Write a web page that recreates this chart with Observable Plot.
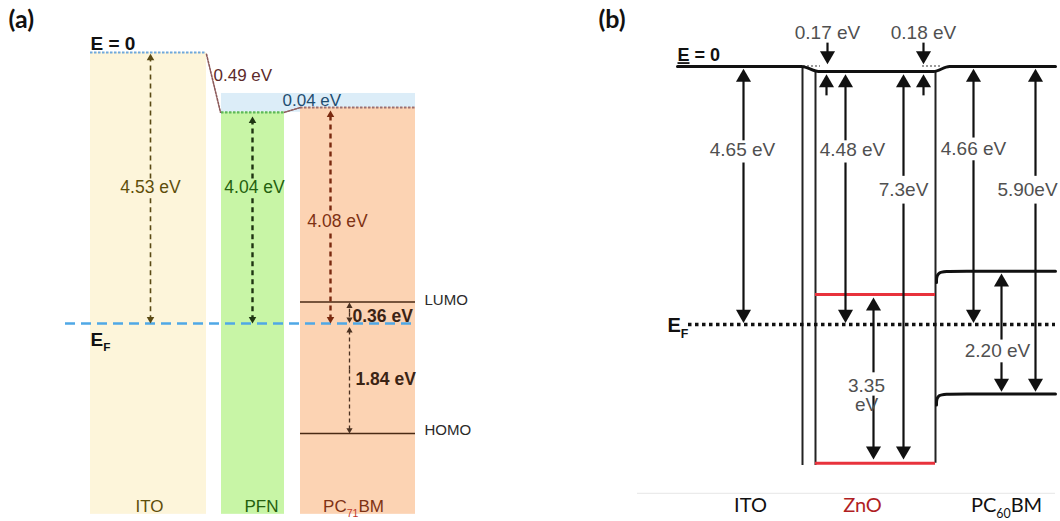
<!DOCTYPE html>
<html>
<head>
<meta charset="utf-8">
<script src="https://cdn.jsdelivr.net/npm/d3@7"></script>
<script src="https://cdn.jsdelivr.net/npm/@observablehq/plot@0.6"></script>
<style>
  html, body { margin: 0; padding: 0; background: #fff; }
  #chart { position: relative; width: 1060px; height: 521px; display: flex; }
  #chart svg { display: block; }
  text { white-space: pre; }
</style>
</head>
<body>
<div id="chart"></div>
<script>
const ARIAL = "'Liberation Sans', Arial, Helvetica, sans-serif";
const CALIBRI = "Lato, 'Open Sans', sans-serif";

// ================= DATA — panel (a): ITO / PFN / PC71BM =================
const layersA     = ["ITO", "PFN", "PC71BM"];
const workFnA     = [4.53, 4.04, 4.08];    // eV, vacuum level → E_F
const vacShiftA   = [0.49, 0.04];          // eV, ITO→PFN, PFN→PC71BM
const orbitalsA   = ["LUMO", "HOMO"];
const orbitalGapA = [0.36, 1.84];          // eV, LUMO above E_F, HOMO below E_F
const vacDrawnA   = [0, 1.0, 0.92];        // schematic (not to scale) drawn vacuum-level depth, eV

// ================= DATA — panel (b): ITO / ZnO / PC60BM =================
const layersB   = ["ITO", "ZnO", "PC60BM"];
const workFnB   = [4.65, 4.48, 4.66];      // eV
const vacShiftB = [0.17, 0.18];            // eV
const znoGapB   = 3.35;                    // eV
const znoVbB    = 7.3;                     // eV
const pcbmGapB  = 2.20;                    // eV
const pcbmHomoB = 5.90;                    // eV
// schematic drawn depths (eV-like units)
const vacDrawnB = [0, 0.09, 0];
const znoCbDrawnB = 4.11, znoVbDrawnB = 7.15, pcbmLumoDrawnB = 3.69;

// ================= helpers =================
function arrowMarks(arrows, {stroke, strokeWidth, dash, r, pxPerUnit}) {
  const tipLen = 1.555 * r;
  const cut = (tipLen * 0.8) / pxPerUnit;
  const lines = arrows.map(a => ({x: a.x, y1: a.tail, y2: a.tip + (a.tip < a.tail ? cut : -cut)}));
  const up = arrows.filter(a => a.tip < a.tail);
  const down = arrows.filter(a => a.tip > a.tail);
  return [
    Plot.link(lines, {x1: "x", x2: "x", y1: "y1", y2: "y2", stroke, strokeWidth, strokeDasharray: dash}),
    Plot.dot(up, {x: "x", y: "tip", symbol: "triangle", r, fill: stroke, stroke: "none", dy: tipLen}),
    Plot.dot(down, {x: "x", y: "tip", symbol: "triangle", r, fill: stroke, stroke: "none", rotate: 180, dy: -tipLen})
  ];
}
function richText(svg, full, parts, basePx) {
  d3.select(svg).selectAll("text").filter(function () { return this.textContent === full; })
    .each(function () {
      const t = d3.select(this);
      t.text(null);
      let shift = 0;
      for (const p of parts) {
        const ts = t.append("tspan").text(p.t);
        if (p.sub) {
          const d = basePx * 0.3;
          ts.attr("font-size", basePx * 0.62).attr("dy", d);
          shift = d;
        } else if (shift) {
          ts.attr("dy", -shift);
          shift = 0;
        }
        if (p.fill) ts.attr("fill", p.fill);
        if (p.underline) ts.attr("text-decoration", "underline");
      }
    });
}
const eV = v => `${v.toFixed(2)} eV`;

// ================= panel (a) =================
const LA = {
  span: [[9.0, 20.6], [22.1, 28.4], [30.0, 41.5]],
  bottom: 7.72,
  fill: ["#FDF5DA", "#C8F5A6", "#FCD3B3"],
  ink: ["#5E4E0A", "#24600E", "#7E3214"],
  topDot: ["#6FA8DC", "#5DB85A", "#9C7070"],
  arrowInk: ["#5A4A14", "#1E3412", "#7A2A10"],
  arrowX: [15.0, 25.2, 33.0],
  labelX: [15.0, 25.4, 33.7],
  labelY: [2.257, 2.257, 2.825],
  gapUp: [0.15, 0.15, 0.185],
  gapDown: [0.18, 0.18, 0.2],
  tipPad: [0.02, 0.07, 0.05]
};
const pxA = 59.82;
const EFa = workFnA[0];
const lumoDepthA = EFa - orbitalGapA[0];
const homoDepthA = EFa + orbitalGapA[1];
const rectsA = layersA.map((name, i) => ({
  name, x1: LA.span[i][0], x2: LA.span[i][1], top: vacDrawnA[i], fill: LA.fill[i], dot: LA.topDot[i]
}));
const bandA = [{x1: LA.span[1][0], x2: LA.span[2][1], y1: 0.685, y2: vacDrawnA[1]}];
const connA = [
  {k: 0, x: LA.span[0][1], y: vacDrawnA[0] + 0.03}, {k: 0, x: LA.span[1][0] - 0.1, y: vacDrawnA[1]},
  {k: 1, x: LA.span[1][1], y: vacDrawnA[1]}, {k: 1, x: LA.span[2][0], y: vacDrawnA[2]}
];
const mainArrowsA = layersA.map((_, i) => [
  {x: LA.arrowX[i], tail: LA.labelY[i] - LA.gapUp[i], tip: vacDrawnA[i] + LA.tipPad[i], c: i},
  {x: LA.arrowX[i], tail: LA.labelY[i] + LA.gapDown[i], tip: EFa, c: i}
]);
const smallArrowsA = [
  {x: 34.9, tail: (lumoDepthA + EFa) / 2, tip: lumoDepthA + 0.01},
  {x: 34.9, tail: (lumoDepthA + EFa) / 2, tip: EFa - 0.01},
  {x: 34.9, tail: 5.3, tip: EFa + 0.06},
  {x: 34.9, tail: 5.3, tip: homoDepthA}
];
const wfLabelsA = layersA.map((_, i) => ({x: LA.labelX[i], y: LA.labelY[i], t: eV(workFnA[i]), c: LA.ink[i]}));
const shiftLabelsA = [
  {x: 21.3, y: 0.385, t: eV(vacShiftA[0]), c: "#5C2A2A"},
  {x: 28.2, y: 0.81, t: eV(vacShiftA[1]), c: "#1F4E70"}
];
const orbLabelsA = [
  {x: 42.4, y: lumoDepthA - 0.03, t: orbitalsA[0]},
  {x: 42.4, y: homoDepthA - 0.05, t: orbitalsA[1]}
];
const gapLabelsA = [
  {x: 35.2, y: 4.41, t: eV(orbitalGapA[0])},
  {x: 35.5, y: 5.47, t: eV(orbitalGapA[1])}
];
const nameLabelsA = layersA.map((name, i) => ({x: [14.9, 26.1, 35.3][i], y: 7.59, t: name, c: LA.ink[i]}));

const plotA = Plot.plot({
  width: 530, height: 521, margin: 0,
  x: {domain: [0, 53], range: [0, 530], axis: null},
  y: {domain: [-0.869, 7.84], range: [0, 521], axis: null},
  color: {type: "identity"},
  style: {fontFamily: ARIAL, background: "transparent", overflow: "visible"},
  marks: [
    Plot.rect(bandA, {x1: "x1", x2: "x2", y1: "y1", y2: "y2", fill: "#DCEDF8"}),
    Plot.rect(rectsA, {x1: "x1", x2: "x2", y1: "top", y2: LA.bottom, fill: "fill"}),
    Plot.ruleY(rectsA, {y: "top", x1: "x1", x2: "x2", stroke: "dot", strokeWidth: 2.2, strokeDasharray: "2.5,1.5"}),
    Plot.line(connA, {x: "x", y: "y", z: "k", stroke: "#8C5A5A", strokeWidth: 1.6, strokeDasharray: "2,1.5"}),
    Plot.ruleY([lumoDepthA, homoDepthA], {x1: LA.span[2][0], x2: LA.span[2][1], stroke: "#4A2A14", strokeWidth: 1.6}),
    Plot.ruleY([EFa], {x1: 6.5, x2: 41.5, stroke: "#4FA8E6", strokeWidth: 2.6, strokeDasharray: "10,6"}),
    ...mainArrowsA.flatMap((arr, i) => arrowMarks(arr, {stroke: LA.arrowInk[i], strokeWidth: i === 0 ? 1.6 : 2.4, dash: "5,4", r: 2.8, pxPerUnit: pxA})),
    ...arrowMarks(smallArrowsA, {stroke: "#4A3020", strokeWidth: 1.3, dash: "4,3", r: 2.3, pxPerUnit: pxA}),
    Plot.text(wfLabelsA, {x: "x", y: "y", text: "t", fill: "c", fontSize: 17.5}),
    Plot.text(shiftLabelsA, {x: "x", y: "y", text: "t", fill: "c", fontSize: 17, textAnchor: "start"}),
    Plot.text(orbLabelsA, {x: "x", y: "y", text: "t", fill: "#2A2A2A", fontSize: 15, textAnchor: "start"}),
    Plot.text(gapLabelsA, {x: "x", y: "y", text: "t", fill: "#3B2314", fontSize: 17.5, fontWeight: "bold", textAnchor: "start"}),
    Plot.text(nameLabelsA, {x: "x", y: "y", text: "t", fill: "c", fontSize: 17}),
    Plot.text(["E = 0"], {x: 9.0, y: -0.14, text: d => d, fill: "#111", fontSize: 19, fontWeight: "bold", textAnchor: "start"}),
    Plot.text(["EF"], {x: 9.0, y: 4.80, text: d => d, fill: "#111", fontSize: 19, fontWeight: "bold", textAnchor: "start"}),
    Plot.text(["(a)"], {x: 0.8, y: -0.535, text: d => d, fill: "#111", fontSize: 25, fontWeight: "bold", textAnchor: "start", fontFamily: CALIBRI})
  ]
});

// ================= panel (b) =================
const pxB = 55.5;
const EFb = workFnB[0];
const vacLineB = [
  {x: 14.7, y: vacDrawnB[0]}, {x: 27.1, y: vacDrawnB[0]},
  {x: 28.8, y: vacDrawnB[1]}, {x: 40.3, y: vacDrawnB[1]},
  {x: 41.9, y: vacDrawnB[2]}, {x: 52.5, y: vacDrawnB[2]}
];
const wallsB = [
  {x: 27.2, y1: vacDrawnB[0], y2: 7.19},
  {x: 28.5, y1: vacDrawnB[1], y2: 7.19},
  {x: 40.5, y1: vacDrawnB[1], y2: znoVbDrawnB}
];
const dotsB = [{x1: 27.3, x2: 29.0}, {x1: 39.2, x2: 41.0}];
const pcLevelsB = [
  {k: "LUMO", x: 40.6, y: pcbmLumoDrawnB + 0.2}, {k: "LUMO", x: 40.6, y: pcbmLumoDrawnB},
  {k: "LUMO", x: 42.2, y: pcbmLumoDrawnB}, {k: "LUMO", x: 52.5, y: pcbmLumoDrawnB},
  {k: "HOMO", x: 40.6, y: pcbmHomoB + 0.2}, {k: "HOMO", x: 40.6, y: pcbmHomoB},
  {k: "HOMO", x: 42.2, y: pcbmHomoB}, {k: "HOMO", x: 52.5, y: pcbmHomoB}
];
const arrowsB = [
  {x: 21.3, tail: 1.33, tip: 0.04}, {x: 21.3, tail: 1.73, tip: EFb - 0.03},
  {x: 29.7, tail: -0.43, tip: -0.04}, {x: 29.6, tail: 0.52, tip: vacDrawnB[1] + 0.05},
  {x: 31.5, tail: 1.33, tip: vacDrawnB[1] + 0.05}, {x: 31.5, tail: 1.73, tip: EFb - 0.03},
  {x: 34.3, tail: 5.51, tip: znoCbDrawnB + 0.05}, {x: 34.3, tail: 5.93, tip: znoVbDrawnB - 0.07},
  {x: 37.3, tail: 1.97, tip: vacDrawnB[1] + 0.05}, {x: 37.3, tail: 2.47, tip: znoVbDrawnB - 0.07},
  {x: 39.3, tail: -0.43, tip: -0.04}, {x: 39.3, tail: 0.52, tip: vacDrawnB[1] + 0.05},
  {x: 44.3, tail: 1.28, tip: 0.04}, {x: 44.3, tail: 1.69, tip: EFb - 0.03},
  {x: 50.5, tail: 1.97, tip: 0.04}, {x: 50.5, tail: 2.47, tip: pcbmHomoB - 0.04},
  {x: 47.1, tail: 4.92, tip: pcbmLumoDrawnB + 0.04}, {x: 47.1, tail: 5.33, tip: pcbmHomoB - 0.04}
];
const labelsB = [
  {x: 29.7, y: -0.6, t: eV(vacShiftB[0])},
  {x: 39.3, y: -0.6, t: eV(vacShiftB[1])},
  {x: 21.2, y: 1.51, t: eV(workFnB[0])},
  {x: 32.2, y: 1.51, t: eV(workFnB[1])},
  {x: 44.3, y: 1.48, t: eV(workFnB[2])},
  {x: 37.3, y: 2.23, t: `${znoVbB.toFixed(1)}eV`},
  {x: 49.7, y: 2.23, t: `${pcbmHomoB.toFixed(2)}eV`},
  {x: 33.6, y: 5.75, t: znoGapB.toFixed(2)},
  {x: 33.6, y: 6.09, t: "eV"},
  {x: 46.7, y: 5.12, t: eV(pcbmGapB)}
];
const namesB = layersB.map((name, i) => ({x: [22.0, 33.2, 47.6][i], y: 7.92, t: name, c: i === 1 ? "#B01E23" : "#111"}));

const plotB = Plot.plot({
  width: 530, height: 521, margin: 0,
  x: {domain: [0, 53], range: [0, 530], axis: null},
  y: {domain: [-1.189, 8.198], range: [0, 521], axis: null},
  style: {fontFamily: ARIAL, background: "transparent", overflow: "visible"},
  marks: [
    Plot.ruleY([7.69], {x1: 10.7, x2: 52.5, stroke: "#E6E6E6", strokeWidth: 1}),
    Plot.ruleY(dotsB, {y: -0.01, x1: "x1", x2: "x2", stroke: "#9A9A9A", strokeWidth: 2, strokeDasharray: "2,2"}),
    Plot.ruleX(wallsB, {x: "x", y1: "y1", y2: "y2", stroke: "#222", strokeWidth: 2}),
    Plot.ruleY([znoCbDrawnB, znoVbDrawnB], {x1: 28.5, x2: 40.5, stroke: "#E8323C", strokeWidth: 3}),
    Plot.line(vacLineB, {x: "x", y: "y", curve: "monotone-x", stroke: "#111", strokeWidth: 3}),
    Plot.line(pcLevelsB, {x: "x", y: "y", z: "k", curve: "basis", stroke: "#111", strokeWidth: 3}),
    Plot.ruleY([EFb], {x1: 15.8, x2: 52.5, stroke: "#111", strokeWidth: 3.5, strokeDasharray: "3.5,3.5"}),
    ...arrowMarks(arrowsB, {stroke: "#111", strokeWidth: 2.2, dash: null, r: 5.6, pxPerUnit: pxB}),
    Plot.text(labelsB, {x: "x", y: "y", text: "t", fill: "#505050", fontSize: 19}),
    Plot.text(namesB, {x: "x", y: "y", text: "t", fill: "c", fontSize: 20, fontFamily: CALIBRI}),
    Plot.text(["E = 0"], {x: 14.7, y: -0.2, text: d => d, fill: "#111", fontSize: 18, fontWeight: "bold", textAnchor: "start"}),
    Plot.text(["EF"], {x: 13.7, y: 4.67, text: d => d, fill: "#111", fontSize: 20, fontWeight: "bold", textAnchor: "start"}),
    Plot.text(["(b)"], {x: 6.8, y: -0.83, text: d => d, fill: "#111", fontSize: 25, fontWeight: "bold", textAnchor: "start", fontFamily: CALIBRI})
  ]
});

const host = document.getElementById("chart");
host.appendChild(plotA);
host.appendChild(plotB);

richText(plotA, "EF", [{t: "E"}, {t: "F", sub: true}], 19);
richText(plotA, "PC71BM", [{t: "PC"}, {t: "71", sub: true, fill: "#C0392B"}, {t: "BM"}], 17);
richText(plotB, "EF", [{t: "E"}, {t: "F", sub: true}], 20);
richText(plotB, "PC60BM", [{t: "PC"}, {t: "60", sub: true}, {t: "BM"}], 20);
richText(plotB, "E = 0", [{t: "E", underline: true}, {t: " = 0"}], 18);
</script>
</body>
</html>
